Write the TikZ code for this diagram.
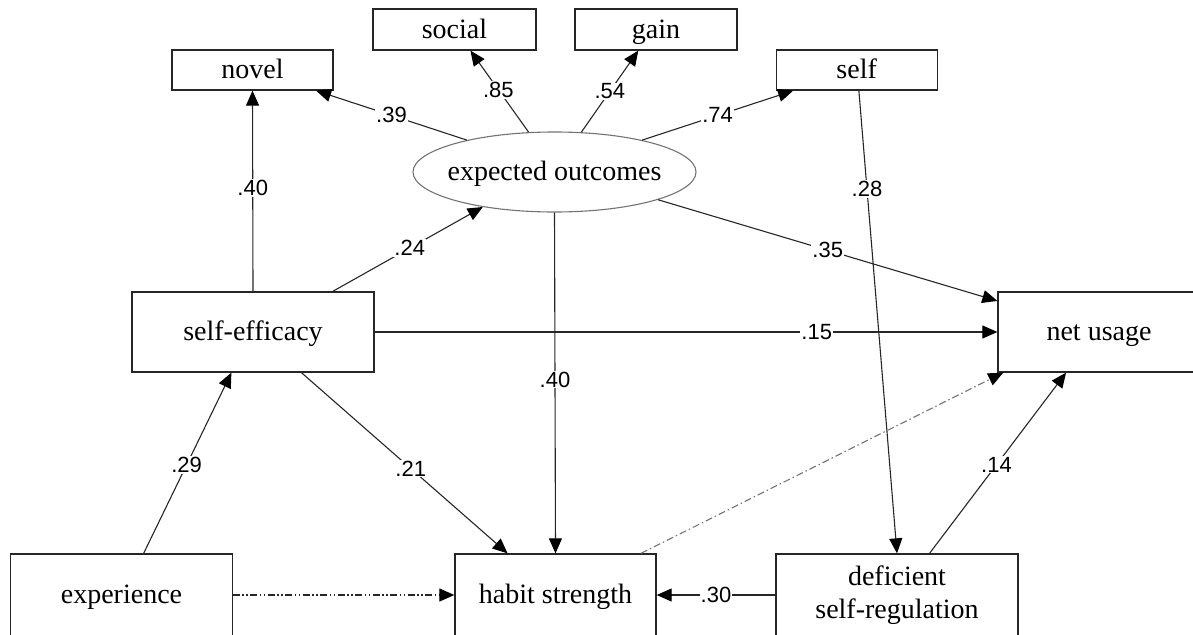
\documentclass[tikz,border=0pt]{standalone}
\usepackage{fontspec}
\setmainfont{Liberation Serif}
\newfontfamily\lblfont{Liberation Sans}
\usetikzlibrary{arrows.meta,shapes.geometric}
\begin{document}
\begin{tikzpicture}[x=1pt,y=-1pt,
  box/.style={draw=black!85, line width=1.3pt, rectangle, inner sep=0pt, font=\fontsize{28}{33}\selectfont, align=center},
  onebox/.style={box, text height=20pt, text depth=3pt},
  oval/.style={draw=black!55, line width=1.1pt, ellipse, inner sep=0pt, minimum width=283pt, minimum height=80pt, font=\fontsize{28}{33}\selectfont, text height=20pt, text depth=3pt},
  conn/.style={draw=black!85, line width=1.1pt, -{Triangle[length=15pt,width=13pt,color=black]}},
  lbl/.style={fill=white, inner sep=1pt, font=\lblfont\fontsize{22}{26}\selectfont, text=black},
  dashdotdot/.style={dash pattern=on 7pt off 2.5pt on 1.5pt off 2.5pt on 1.5pt off 2.5pt},
  dashdotgray/.style={draw=black!55, dash pattern=on 7pt off 3pt on 1.5pt off 3pt},
]
\useasboundingbox (0,0) rectangle (1193,634);
\clip (0,0) rectangle (1193,634);

% nodes
\node[onebox, minimum width=161pt, minimum height=40pt] (novel) at (252.5,70) {novel};
\node[onebox, minimum width=163pt, minimum height=41pt] (social) at (454.5,29.5) {social};
\node[onebox, minimum width=162pt, minimum height=41pt] (gain) at (656,29.5) {gain};
\node[onebox, minimum width=161pt, minimum height=40pt] (self) at (856.7,70) {self};
\node[oval] (eo) at (554.5,172) {\makebox[0pt]{expected outcomes}};
\node[onebox, minimum width=242pt, minimum height=80pt] (se) at (253,332) {self-efficacy};
\node[onebox, minimum width=202pt, minimum height=80pt] (nu) at (1099,332) {net usage};
\node[onebox, minimum width=221.5pt, minimum height=82pt] (exp) at (121.5,595) {experience};
\node[onebox, minimum width=201pt, minimum height=82pt] (hs) at (555.5,595) {habit strength};
\node[box, minimum width=242pt, minimum height=82pt] (defi) at (897,595) {deficient\\self-regulation};

% connectors
\draw[conn] (se.north) -- node[lbl, pos=0.515] {.40} (novel.south);
\draw[conn] (eo.160) -- node[lbl, pos=0.5] {.39} (novel.-18.3);
\draw[conn] (eo.123) -- node[lbl, pos=0.52] {.85} (social.-53);
\draw[conn] (eo.56) -- node[lbl, pos=0.5] {.54} (gain.230.3);
\draw[conn] (eo.20) -- node[lbl, pos=0.5] {.74} (self.198.5);
\draw[conn] (self.-84) -- node[lbl, pos=0.213] {.28} (defi.north);
\draw[conn] (se.27.8) -- node[lbl, pos=0.513] {.24} (eo.206.7);
\draw[conn] (eo.-15.6) -- node[lbl, pos=0.5] {.35} (nu.163.5);
\draw[conn] (se.east) -- node[lbl, pos=0.71] {.15} (nu.west);
\draw[conn] (eo.south) -- node[lbl, pos=0.49] {.40} (hs.north);
\draw[conn] (se.-40.4) -- node[lbl, pos=0.53] {.21} (hs.139.8);
\draw[conn] (exp.62.3) -- node[lbl, pos=0.49] {.29} (se.242.3);
\draw[conn, dashdotdot] (exp.east) -- (hs.west);
\draw[conn, dashdotgray] (hs.26.4) -- (nu.203.5);
\draw[conn] (defi.52) -- node[lbl, pos=0.49] {.14} (nu.231.3);
\draw[conn] (defi.west) -- node[lbl, pos=0.5] {.30} (hs.east);
\end{tikzpicture}
\end{document}
